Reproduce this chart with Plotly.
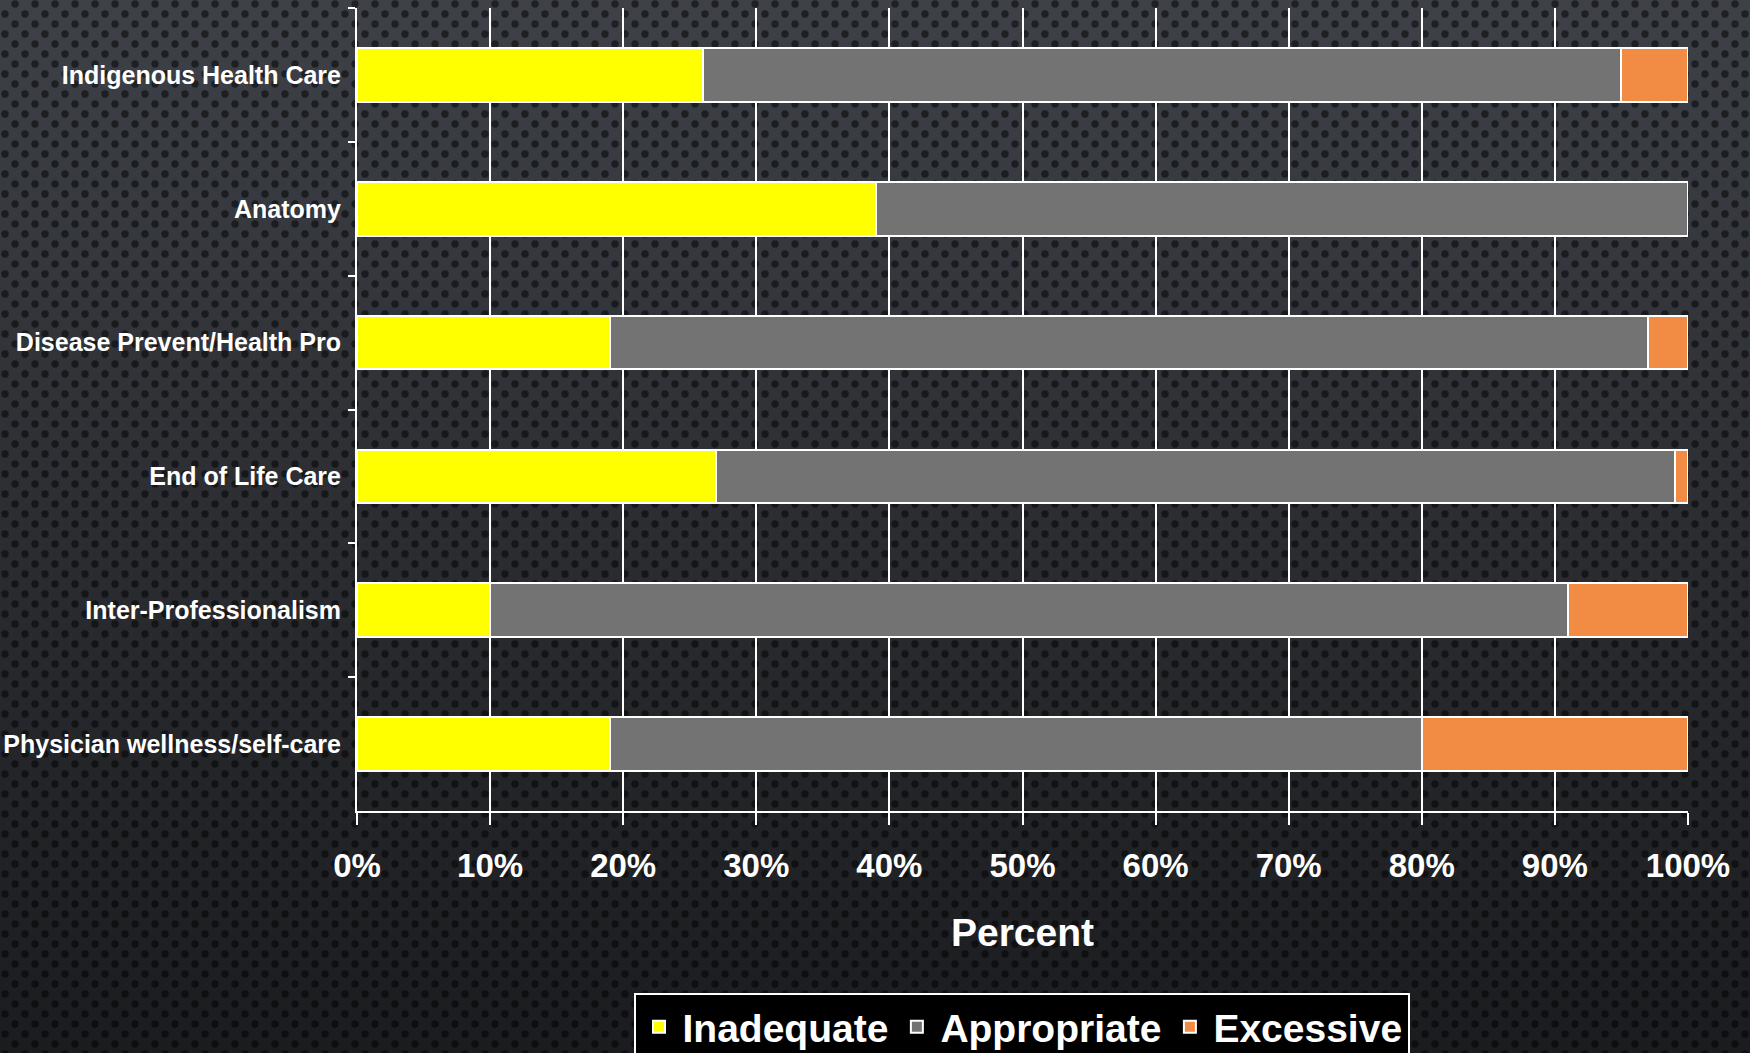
import base64
import plotly.graph_objects as go

categories = ["Indigenous Health Care", "Anatomy", "Disease Prevent/Health Pro",
              "End of Life Care", "Inter-Professionalism", "Physician wellness/self-care"]
inadequate = [26, 39, 19, 27, 10, 19]
appropriate = [69, 61, 78, 72, 81, 61]
excessive = [5, 0, 3, 1, 9, 20]
x_ticks = [0, 10, 20, 30, 40, 50, 60, 70, 80, 90, 100]

W, H = 1750, 1053
ML, MR, MT, MB = 357, 62, 8, 242
PW, PH = W - ML - MR, H - MT - MB

svg = f'''<svg xmlns="http://www.w3.org/2000/svg" width="{W}" height="{H}" viewBox="0 0 {W} {H}" preserveAspectRatio="none">
<defs>
<linearGradient id="g" x1="0" y1="0" x2="0" y2="1">
<stop offset="0" stop-color="#3e4148"/>
<stop offset="0.5" stop-color="#2b2d32"/>
<stop offset="1" stop-color="#1b1c1f"/>
</linearGradient>
<filter id="b"><feGaussianBlur stdDeviation="0.6"/></filter>
<pattern id="p" patternUnits="userSpaceOnUse" width="20" height="20">
<g filter="url(#b)" fill="#000" fill-opacity="0.5">
<circle cx="15" cy="4" r="3.7"/>
<circle cx="5" cy="14" r="3.7"/>
</g>
</pattern>
</defs>
<rect width="{W}" height="{H}" fill="url(#g)"/>
<rect width="{W}" height="{H}" fill="url(#p)"/>
</svg>'''
bg_uri = "data:image/svg+xml;base64," + base64.b64encode(svg.encode()).decode()

FONT = "Liberation Sans, Arial, sans-serif"
series = [("Inadequate", inadequate, "#FFFF00"),
          ("Appropriate", appropriate, "#737373"),
          ("Excessive", excessive, "#F28C44")]

fig = go.Figure()
for name, vals, col in series:
    fig.add_trace(go.Bar(
        y=categories, x=vals, name=name, orientation="h", width=0.4,
        marker=dict(color=col, line=dict(color="#FFFFFF", width=2)),
    ))

fig.update_layout(
    width=W, height=H, barmode="stack",
    margin=dict(l=ML, r=MR, t=MT, b=MB, pad=0, autoexpand=False),
    paper_bgcolor="rgba(0,0,0,0)", plot_bgcolor="rgba(0,0,0,0)",
    font=dict(family=FONT, color="#FFFFFF", weight="bold"),
    images=[dict(source=bg_uri, xref="paper", yref="paper",
                 x=-ML / PW, y=1 + MT / PH, sizex=W / PW, sizey=H / PH,
                 xanchor="left", yanchor="top", sizing="stretch", layer="below")],
    xaxis=dict(range=[0, 100], tickvals=x_ticks, ticktext=[f"{v}%" for v in x_ticks],
               showgrid=True, gridcolor="#FFFFFF", gridwidth=2,
               showline=True, linecolor="#FFFFFF", linewidth=2,
               ticks="outside", ticklen=12, tickwidth=2, tickcolor="#FFFFFF",
               tickfont=dict(size=33, family=FONT, color="#FFFFFF", weight="bold"),
               ticklabelstandoff=12, zeroline=False, automargin=False,
               title=dict(text="Percent", standoff=36,
                          font=dict(size=39, family=FONT, color="#FFFFFF", weight="bold"))),
    yaxis=dict(categoryorder="array", categoryarray=categories, autorange="reversed",
               showgrid=False, showline=True, linecolor="#FFFFFF", linewidth=2,
               ticks="outside", ticklen=7, tickwidth=2, tickcolor="#FFFFFF",
               tickson="boundaries", ticklabelstandoff=9, automargin=False,
               tickfont=dict(size=25, family=FONT, color="#FFFFFF", weight="bold")),
    legend=dict(orientation="h", x=(1021.5 - ML) / PW, xanchor="center",
                y=-(993 - (MT + PH)) / PH, yanchor="top", itemwidth=37,
                bgcolor="#000000", bordercolor="#FFFFFF", borderwidth=2,
                font=dict(size=39, family=FONT, color="#FFFFFF", weight="bold"),
                traceorder="normal"),
)

fig.write_html("out.html", config={"displayModeBar": False},
               post_script="document.body.style.margin='0';document.body.style.background='#1b1c1f';")
